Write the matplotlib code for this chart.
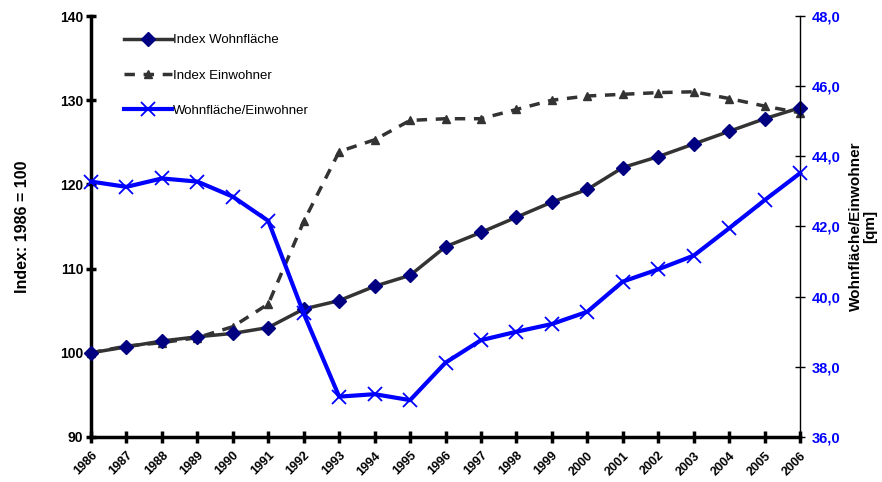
import matplotlib.pyplot as plt

plt.rcParams["font.family"] = ["Liberation Sans", "DejaVu Sans"]

years = list(range(1986, 2007))
index_wohnflaeche = [100.0, 100.7, 101.4, 101.9, 102.3, 103.0, 105.2, 106.2, 107.9, 109.2, 112.6,
                     114.3, 116.1, 117.9, 119.4, 122.0, 123.3, 124.8, 126.3, 127.8, 129.1]
index_einwohner = [100.0, 100.8, 101.2, 101.8, 103.1, 105.8, 115.6, 123.9, 125.3, 127.6, 127.8,
                   127.8, 128.9, 130.0, 130.5, 130.7, 130.9, 131.0, 130.2, 129.3, 128.5]
wfl_pro_ew = [43.28, 43.13, 43.37, 43.28, 42.85, 42.16, 39.52, 37.15, 37.22, 37.05, 38.12,
              38.76, 39.0, 39.22, 39.57, 40.43, 40.78, 41.17, 41.95, 42.75, 43.52]
left_ticks = [90, 100, 110, 120, 130, 140]
right_ticks = [36, 38, 40, 42, 44, 46, 48]

fig = plt.figure(figsize=(8.82, 4.82), dpi=100)
ax = fig.add_axes([0.1032, 0.0934, 0.8039, 0.8734])
ax2 = ax.twinx()

l1, = ax.plot(years, index_wohnflaeche, color="#333333", lw=2.5, marker="D", ms=7,
              mfc="#000080", mec="#000080", clip_on=False, zorder=3, label="Index Wohnfläche")
l2, = ax.plot(years, index_einwohner, color="#333333", lw=2.5, ls=(0, (3, 2.5)), marker="^", ms=6,
              mfc="#333333", mec="#333333", clip_on=False, zorder=2, label="Index Einwohner")
l3, = ax2.plot(years, wfl_pro_ew, color="#0000FF", lw=3, marker="x", ms=10, mew=1.3,
               clip_on=False, zorder=3, label="Wohnfläche/Einwohner")

ax.set_xlim(1986, 2006)
ax.set_ylim(90, 140)
ax2.set_ylim(36, 48)
ax.set_xticks(years)
ax.set_xticklabels([str(y) for y in years], rotation=45, ha="right", rotation_mode="anchor",
                   fontsize=9, fontweight="bold")
ax.set_yticks(left_ticks)
ax.set_yticklabels([str(t) for t in left_ticks], fontsize=10, fontweight="bold")
ax2.set_yticks(right_ticks)
ax2.set_yticklabels([f"{t},0" for t in right_ticks], fontsize=10.5,
                    fontweight="bold", color="#0000FF")

ax.spines["top"].set_visible(False)
ax2.spines["top"].set_visible(False)
ax.spines["left"].set_linewidth(2.5)
ax.spines["bottom"].set_linewidth(2.5)
ax2.spines["left"].set_visible(False)
ax2.spines["bottom"].set_visible(False)
ax.spines["right"].set_visible(False)
ax2.spines["right"].set_linewidth(1)

ax.tick_params(axis="y", direction="inout", length=7, width=2.5, pad=2)
ax.tick_params(axis="x", direction="inout", length=8, width=2.5, pad=5)
ax2.tick_params(axis="y", direction="inout", length=7, width=1, pad=5)

ax.set_ylabel("Index: 1986 = 100", fontsize=11.5, fontweight="bold", labelpad=22)
ax2.set_ylabel("Wohnfläche/Einwohner\n[qm]", fontsize=11, fontweight="bold", labelpad=6,
               linespacing=1.0)

ax.legend(handles=[l1, l2, l3], loc="upper left", bbox_to_anchor=(0.03, 0.985), frameon=False,
          fontsize=9.5, labelspacing=1.75, handlelength=3.6, handletextpad=0.1)

fig.savefig("out.png", dpi=100)
